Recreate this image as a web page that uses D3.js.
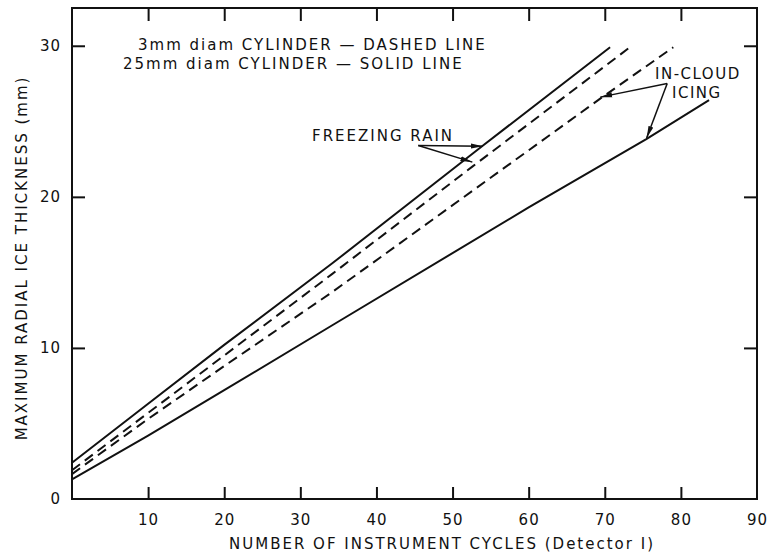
<!DOCTYPE html>
<html>
<head>
<meta charset="utf-8">
<script src="https://cdn.jsdelivr.net/npm/d3@7"></script>
<style>
  html, body { margin: 0; padding: 0; background: #fff; }
  svg text { font-family: "DejaVu Sans", sans-serif; fill: #111; }
</style>
</head>
<body>
<svg id="chart" width="772" height="554"></svg>
<script>
// ---- data ----
const xTickValues = [10, 20, 30, 40, 50, 60, 70, 80, 90];
const yTickValues = [0, 10, 20, 30];

// Freezing rain, 25 mm cylinder (solid)
const frSolidX = [0, 10, 20, 34.2, 54, 70.7];
const frSolidY = [2.4, 6.3, 10.2, 15.6, 23.4, 29.9];
// Freezing rain, 3 mm cylinder (dashed)
const frDashX = [0, 10, 20, 34.2, 52.6, 73.3];
const frDashY = [1.9, 5.7, 9.5, 14.9, 22.0, 29.9];
// In-cloud icing, 3 mm cylinder (dashed)
const icDashX = [0, 10, 20, 34.2, 69.4, 79];
const icDashY = [1.65, 5.3, 8.8, 13.7, 26.5, 29.9];
// In-cloud icing, 25 mm cylinder (solid)
const icSolidX = [0, 10, 20, 34.2, 60, 75.4, 83.7];
const icSolidY = [1.3, 4.2, 7.2, 11.5, 19.3, 23.8, 26.4];

const legendLines = ["3mm diam  CYLINDER \u2014 DASHED LINE", "25mm diam  CYLINDER \u2014 SOLID LINE"];
const xTitle = "NUMBER OF INSTRUMENT CYCLES (Detector I)";
const yTitle = "MAXIMUM RADIAL ICE THICKNESS (mm)";

// annotation anchors in data units: [originX, originY, tipX, tipY]
const frArrows = [[45.5, 23.4, 54.0, 23.35], [45.5, 23.4, 52.6, 22.3]];
const icArrows = [[78.2, 27.5, 69.4, 26.6], [78.2, 27.5, 75.5, 23.9]];

// ---- layout ----
const W = 772, H = 554;
const margin = {left: 72, right: 15, top: 8, bottom: 55};
const svg = d3.select("#chart");
const x = d3.scaleLinear().domain([0, 90]).range([margin.left, W - margin.right]);
const y = d3.scaleLinear().domain([0, 32.5]).range([H - margin.bottom, margin.top]);

const ink = "#111";
const FS = 15, LS = 2;

// frame
svg.append("rect")
  .attr("x", x(0)).attr("y", y(32.5))
  .attr("width", x(90) - x(0)).attr("height", y(0) - y(32.5))
  .attr("fill", "none").attr("stroke", ink).attr("stroke-width", 2);

function styleAxis(g) {
  g.select(".domain").remove();
  g.selectAll(".tick line").attr("stroke", ink).attr("stroke-width", 2);
  g.selectAll(".tick text").attr("font-size", FS).attr("letter-spacing", 1).attr("fill", ink)
    .style("font-family", "DejaVu Sans, sans-serif");
}

// bottom axis (ticks inward)
svg.append("g").attr("transform", `translate(0,${y(0)})`)
  .call(d3.axisBottom(x).tickValues(xTickValues).tickSize(-12).tickPadding(15).tickFormat(d3.format("d")))
  .call(styleAxis)
  .call(g => g.selectAll(".tick").filter(d => d === 90).select("line").remove());
// top axis ticks
svg.append("g").attr("transform", `translate(0,${y(32.5)})`)
  .call(d3.axisTop(x).tickValues(xTickValues.filter(d => d < 90)).tickSize(-13).tickFormat(""))
  .call(styleAxis);
// left axis
svg.append("g").attr("transform", `translate(${x(0)},0)`)
  .call(d3.axisLeft(y).tickValues(yTickValues).tickSize(-13).tickPadding(11).tickFormat(d3.format("d")))
  .call(styleAxis)
  .call(g => g.selectAll(".tick").filter(d => d === 0).select("line").remove());
// right axis ticks
svg.append("g").attr("transform", `translate(${x(90)},0)`)
  .call(d3.axisRight(y).tickValues(yTickValues.filter(d => d > 0)).tickSize(-13).tickFormat(""))
  .call(styleAxis);

// series
const line = d3.line().x(d => x(d[0])).y(d => y(d[1]));
const series = [
  {xs: frSolidX, ys: frSolidY, dash: null},
  {xs: frDashX, ys: frDashY, dash: "10,6"},
  {xs: icDashX, ys: icDashY, dash: "10,6"},
  {xs: icSolidX, ys: icSolidY, dash: null}
];
series.forEach(s => {
  svg.append("path")
    .datum(s.xs.map((v, i) => [v, s.ys[i]]))
    .attr("d", line)
    .attr("fill", "none").attr("stroke", ink).attr("stroke-width", 2)
    .attr("stroke-dasharray", s.dash);
});

// arrow marker
const defs = svg.append("defs");
defs.append("marker").attr("id", "arr")
  .attr("markerUnits", "userSpaceOnUse")
  .attr("viewBox", "0 0 12 6").attr("refX", 12).attr("refY", 3)
  .attr("markerWidth", 12).attr("markerHeight", 6).attr("orient", "auto")
  .append("path").attr("d", "M0,0.5 L12,3 L0,5.5 Z").attr("fill", ink);

[...frArrows, ...icArrows].forEach(a => {
  svg.append("line")
    .attr("x1", x(a[0])).attr("y1", y(a[1]))
    .attr("x2", x(a[2])).attr("y2", y(a[3]))
    .attr("stroke", ink).attr("stroke-width", 1.5)
    .attr("marker-end", "url(#arr)");
});

// legend text
svg.append("text").attr("x", 138).attr("y", 50).attr("font-size", FS).attr("letter-spacing", LS).text(legendLines[0]);
svg.append("text").attr("x", 123).attr("y", 69).attr("font-size", FS).attr("letter-spacing", LS).text(legendLines[1]);

// annotations
svg.append("text").attr("x", 312).attr("y", 141).attr("font-size", FS).attr("letter-spacing", LS).text("FREEZING RAIN");
svg.append("text").attr("x", 655).attr("y", 79).attr("font-size", FS).attr("letter-spacing", 1.5).text("IN-CLOUD");
svg.append("text").attr("x", 672).attr("y", 98).attr("font-size", FS).attr("letter-spacing", 1.5).text("ICING");

// axis titles
svg.append("text").attr("x", 442).attr("y", 549).attr("text-anchor", "middle")
  .attr("font-size", FS).attr("letter-spacing", LS).text(xTitle);
svg.append("text").attr("transform", `translate(27,258) rotate(-90)`).attr("text-anchor", "middle")
  .attr("font-size", FS).attr("letter-spacing", LS).text(yTitle);
</script>
</body>
</html>
